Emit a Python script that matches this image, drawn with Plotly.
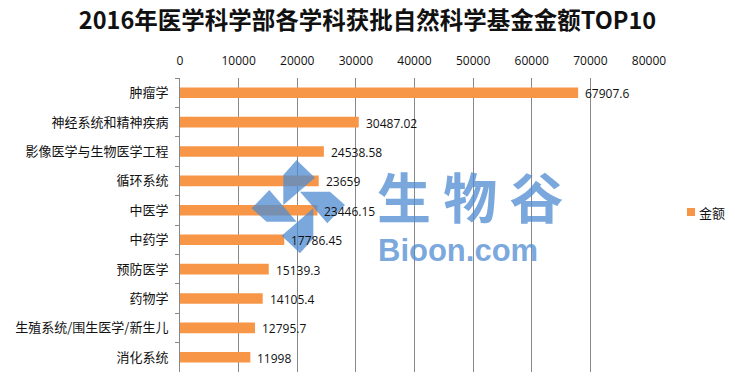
import plotly.graph_objects as go

# Top-10 disciplines by approved NSFC funding, 2016 (medical sciences)
categories = [
    "肿瘤学",
    "神经系统和精神疾病",
    "影像医学与生物医学工程",
    "循环系统",
    "中医学",
    "中药学",
    "预防医学",
    "药物学",
    "生殖系统/围生医学/新生儿",
    "消化系统",
]
amounts = [67907.6, 30487.02, 24538.58, 23659, 23446.15, 17786.45, 15139.3, 14105.4, 12795.7, 11998]
amount_labels = ["67907.6", "30487.02", "24538.58", "23659", "23446.15",
                 "17786.45", "15139.3", "14105.4", "12795.7", "11998"]
x_ticks = [0, 10000, 20000, 30000, 40000, 50000, 60000, 70000, 80000]
series_name = "金额"

W, H = 735, 384
M_L, M_R, M_T, M_B = 180, 86, 78, 12
ORANGE = "#f79646"
GRID = "#888888"
CJK = "Noto Sans CJK SC"
WM_BLUE = "rgba(80,140,210,0.76)"

fig = go.Figure()
fig.add_trace(go.Bar(
    y=categories, x=amounts, orientation="h", name=series_name,
    marker=dict(color=ORANGE, line=dict(width=0)),
    width=0.36, showlegend=False, hoverinfo="x+y",
))

# value labels to the right of each bar
for cat, val, lab in zip(categories, amounts, amount_labels):
    fig.add_annotation(
        x=val, y=cat, xref="x", yref="y", text=lab, showarrow=False,
        xanchor="left", yanchor="middle", xshift=5, yshift=-1,
        font=dict(family="Open Sans, " + CJK, size=12, color="#111111"),
    )

pw, ph = W - M_L - M_R, H - M_T - M_B
def to_paper(px, py):
    return (px - M_L) / pw, 1 - (py - M_T) / ph

# compact legend: small swatch followed by the series name
lx0, ly0 = to_paper(687, 208)
lx1, ly1 = to_paper(695, 216)
fig.add_shape(type="rect", xref="paper", yref="paper", x0=lx0, y0=ly1, x1=lx1, y1=ly0,
              fillcolor=ORANGE, line=dict(width=0))
tx, ty = to_paper(697, 212)
fig.add_annotation(x=tx, y=ty, xref="paper", yref="paper", text=series_name, showarrow=False,
                   xanchor="left", yanchor="middle",
                   font=dict(family=CJK, size=13, color="#111111"))

# watermark: pinwheel logo plus site name
cx, cy = 298.3, 206.7
arm = [(-45, -5), (-45, -95), (-5, -140), (50, -87)]
def rot(p, k):
    x, y = p
    for _ in range(k):
        x, y = -y, x
    return x, y

for k in range(4):
    pts = [rot(p, k) for p in arm]
    coords = [to_paper(cx + x / 3, cy + y / 3) for x, y in pts]
    path = "M " + " L ".join(f"{u:.4f},{v:.4f}" for u, v in coords) + " Z"
    fig.add_shape(type="path", path=path, xref="paper", yref="paper",
                  fillcolor=WM_BLUE, line=dict(width=0), layer="above")

wx, wy = to_paper(470, 195)
fig.add_annotation(x=wx, y=wy, xref="paper", yref="paper", text="<b>生 物 谷</b>", showarrow=False,
                   font=dict(family=CJK, size=54, color=WM_BLUE),
                   xanchor="center", yanchor="middle")
bx, by = to_paper(458, 250)
fig.add_annotation(x=bx, y=by, xref="paper", yref="paper", text="<b>Bioon.com</b>", showarrow=False,
                   font=dict(family="Liberation Sans, Arial", size=31, color=WM_BLUE),
                   xanchor="center", yanchor="middle")

fig.update_layout(
    width=W, height=H,
    margin=dict(l=M_L, r=M_R, t=M_T, b=M_B, autoexpand=False),
    paper_bgcolor="white", plot_bgcolor="white",
    showlegend=False,
    title=dict(
        text="<b>2016年医学科学部各学科获批自然科学基金金额TOP10</b>",
        x=0.5, xref="container", xanchor="center", y=1 - 21 / H, yanchor="middle",
        font=dict(family=CJK, size=23.5, color="#111111"),
    ),
    xaxis=dict(
        side="top", range=[0, 80000], tickvals=x_ticks,
        ticktext=[str(v) for v in x_ticks],
        showgrid=True, gridcolor=GRID, gridwidth=1,
        zeroline=False, showline=False, ticks="",
        ticklabelstandoff=10,
        tickfont=dict(family="Open Sans", size=12, color="#111111"),
        fixedrange=True,
    ),
    yaxis=dict(
        categoryorder="array", categoryarray=categories, autorange="reversed",
        showline=True, linecolor=GRID, linewidth=1,
        ticks="outside", ticklen=4, tickcolor=GRID, tickson="boundaries",
        ticklabelstandoff=8,
        showgrid=False, zeroline=False,
        tickfont=dict(family=CJK, size=13, color="#111111"),
        fixedrange=True,
    ),
    bargap=0.64,
)

fig.write_html("out.html")
